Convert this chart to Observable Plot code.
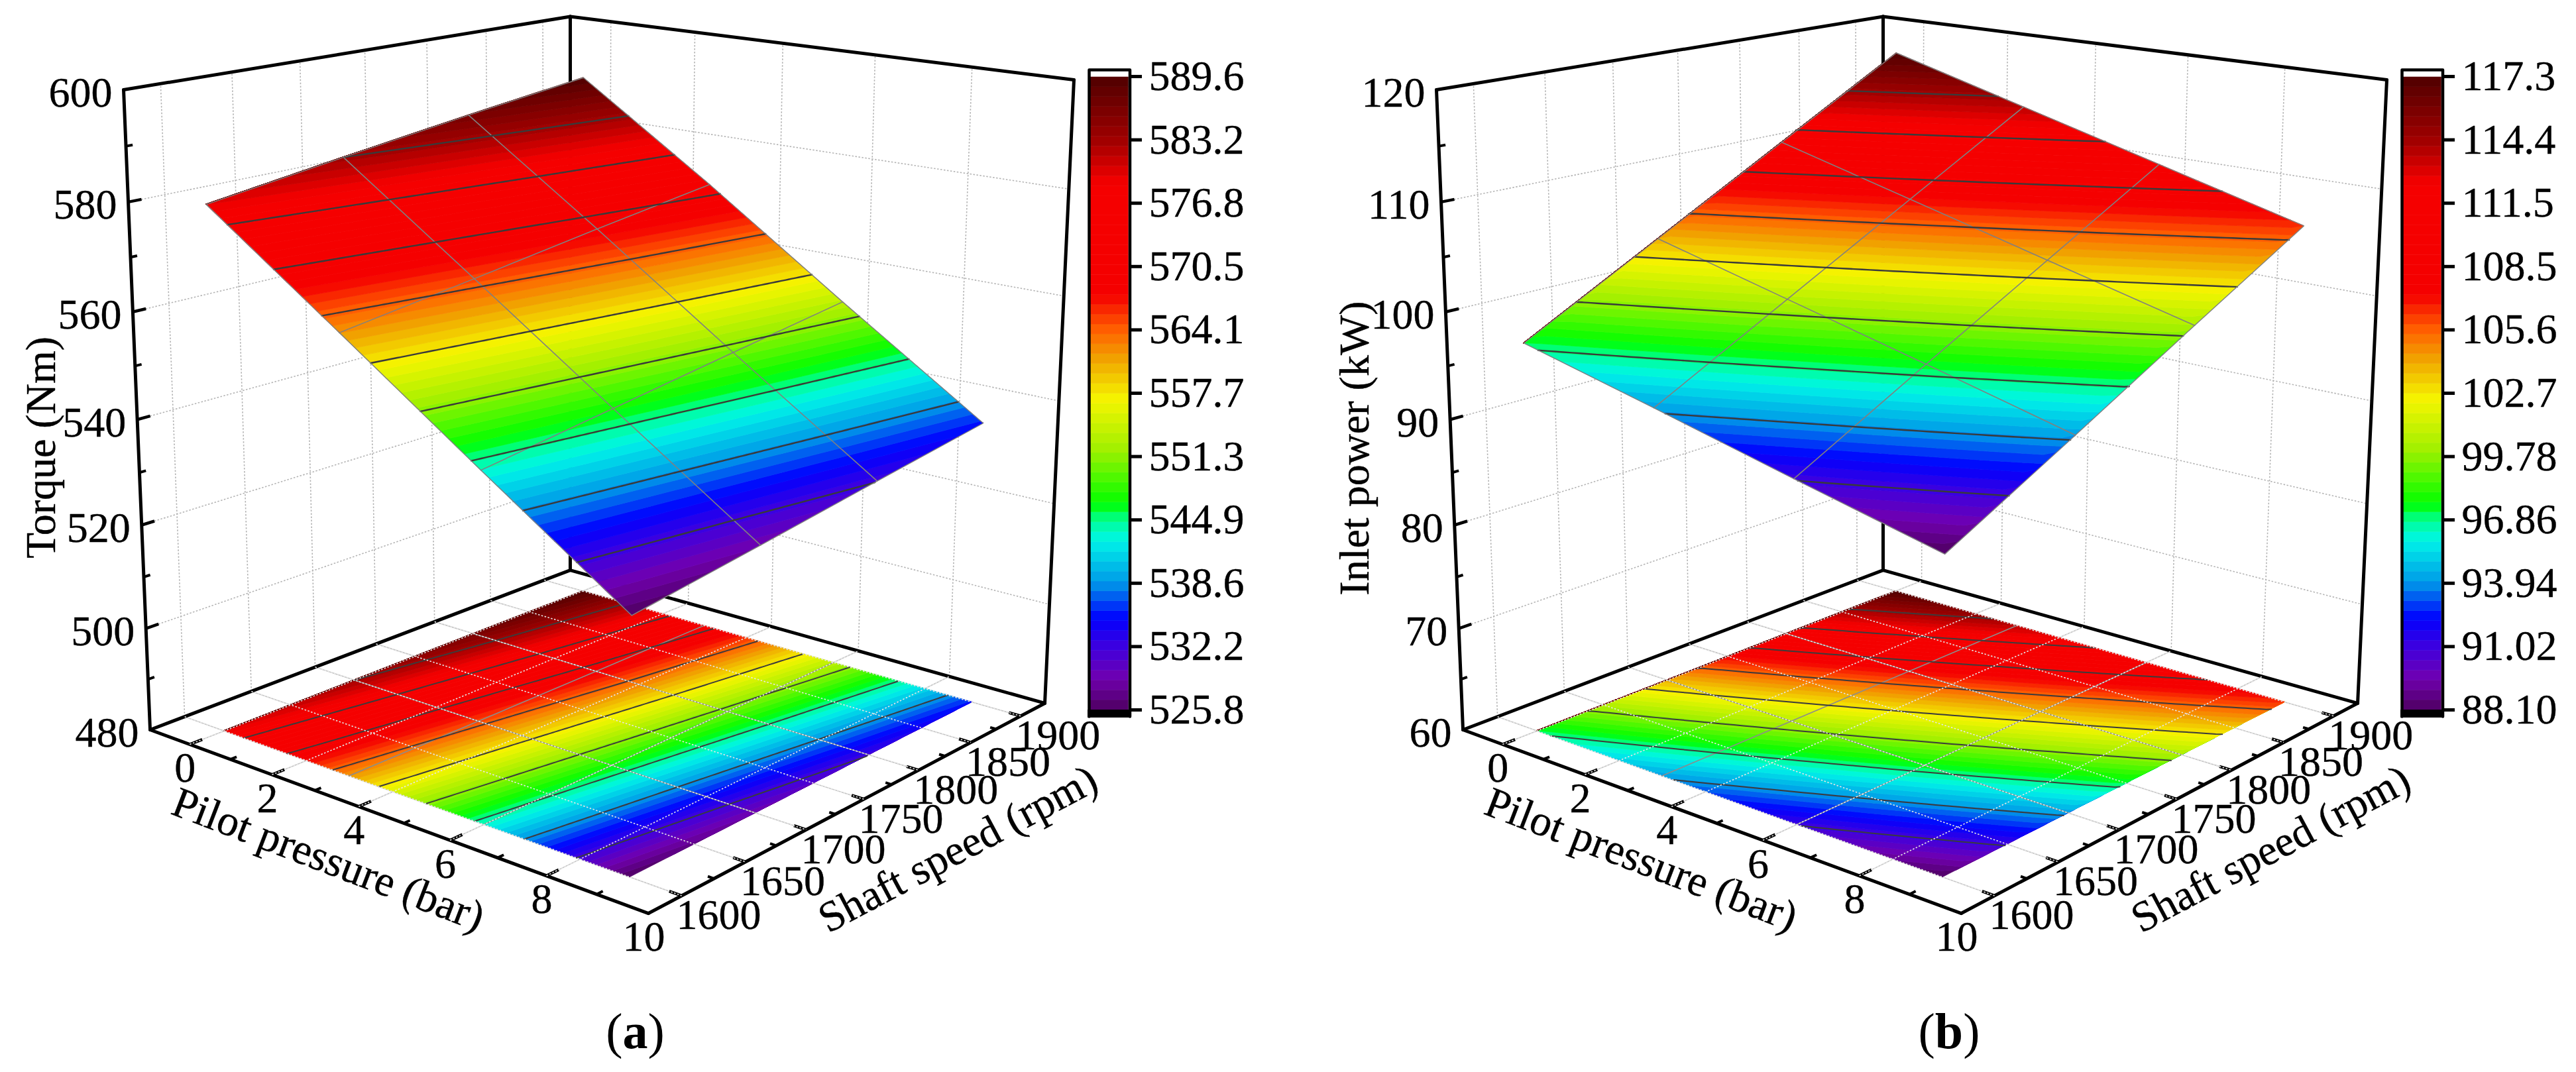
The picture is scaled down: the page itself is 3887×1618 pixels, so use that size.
<!DOCTYPE html>
<html>
<head>
<meta charset="utf-8">
<script src="https://cdn.jsdelivr.net/npm/d3@7"></script>
<script src="https://cdn.jsdelivr.net/npm/@observablehq/plot@0.6"></script>
<style>
html,body{margin:0;padding:0;background:#fff;overflow:hidden;width:3887px;height:1618px}
#root{position:relative;width:3887px;height:1618px}
.panel{position:absolute;top:0}
.panel svg{display:block;overflow:visible;background:#fff}
.cap{position:absolute;top:1518px;font:76px/76px "Liberation Serif",serif;color:#000;transform:translateX(-50%);white-space:nowrap}
</style>
</head>
<body>
<div id="root"></div>
<script>
// ---- values ----
const pilotValues = [0, 3, 6, 9];                 // bar
const speedValues = [1600, 1700, 1800, 1900];     // rpm
// one row per pilot value, one column per speed value
const torqueValues = [
  [579.7, 583.2, 586.5, 589.6],
  [561.8, 565.2, 568.7, 572.0],
  [543.7, 547.0, 550.3, 553.5],
  [525.8, 529.0, 532.3, 535.5]
];
const powerValues = [
  [97.2, 103.9, 110.6, 117.3],
  [94.2, 100.7, 107.2, 113.7],
  [91.1, 97.5, 103.8, 110.1],
  [88.1, 94.2, 100.4, 106.5]
];
const pilotTicks = [0, 2, 4, 6, 8, 10];
const pilotMinorTicks = [1, 3, 5, 7, 9];
const speedTicks = [1600, 1650, 1700, 1750, 1800, 1850, 1900];
const speedMinorTicks = [1625, 1675, 1725, 1775, 1825, 1875];
const torqueTicks = [480, 500, 520, 540, 560, 580, 600];
const torqueMinorTicks = [490, 510, 530, 550, 570, 590];
const powerTicks = [60, 70, 80, 90, 100, 110, 120];
const powerMinorTicks = [65, 75, 85, 95, 105, 115];
const torqueBarLabels = ["589.6","583.2","576.8","570.5","564.1","557.7","551.3","544.9","538.6","532.2","525.8"];
const powerBarLabels = ["117.3","114.4","111.5","108.5","105.6","102.7","99.78","96.86","93.94","91.02","88.10"];
const colorStops = [0, 0.05, 0.10, 0.144, 0.20, 0.268, 0.30, 0.325, 0.41, 0.49, 0.55, 0.60, 0.655, 0.832, 0.90, 1];
const colorRange = ["#4f0060","#7000b0","#3c00e0","#0000ff","#0098e8","#00f5e8","#00ff90","#00ff00","#a0f000","#f5f500","#f0a800","#ff6000","#f50000","#f50000","#a00000","#500000"];

// ---- layout (pixels, shared by both panels) ----
const W = 1906, H = 1518, FONT = '"Liberation Serif", serif';
const pilotRange = [-1, 10], speedRange = [1575, 1925];
const boxCorners = [ // [u, v, w, px, py]
  [0,0,0, 226,1101],[1,0,0, 978,1378],[1,1,0, 1576,1061],[0,1,0, 860,860],
  [0,0,1, 186,135],[0,1,1, 860,24.5],[1,1,1, 1620,120]
];
const bar = {x1:1645, x2:1702.5, frameL:1643, frameR:1704.5, frameT:105, frameB:1081, top:116, bottom:1071, tickTop:115, tickBottom:1071, labelX:1733};

// Fit of a perspective camera to the box corners (normal equations)
function fitCamera(pts){
  const A=[],b=[];
  for(const [u,v,w,X0,Y0] of pts){
    const X=X0/1000,Y=Y0/1000;
    A.push([u,v,w,1,0,0,0,0,-X*u,-X*v,-X*w]);b.push(X);
    A.push([0,0,0,0,u,v,w,1,-Y*u,-Y*v,-Y*w]);b.push(Y);
  }
  const n=11,M=[];
  for(let i=0;i<n;i++){M.push([]);for(let j=0;j<n;j++){let s=i===j?1e-10:0;for(let k=0;k<A.length;k++)s+=A[k][i]*A[k][j];M[i].push(s);}
    let r=0;for(let k=0;k<A.length;k++)r+=A[k][i]*b[k];M[i].push(r);}
  for(let i=0;i<n;i++){let p=i;for(let r=i+1;r<n;r++)if(Math.abs(M[r][i])>Math.abs(M[p][i]))p=r;[M[i],M[p]]=[M[p],M[i]];
    for(let r=0;r<n;r++){if(r===i)continue;const f=M[r][i]/M[i][i];for(let c=i;c<=n;c++)M[r][c]-=f*M[i][c];}}
  return M.map((row,i)=>row[n]/row[i]);
}
const cam = fitCamera(boxCorners);

function drawPanel(cfg){
  const {table, zTicks, zMinor, zRange, barLabels, zLabel} = cfg;
  const P=(pilot,speed,z)=>{
    const u=(pilot-pilotRange[0])/(pilotRange[1]-pilotRange[0]),
          v=(speed-speedRange[0])/(speedRange[1]-speedRange[0]),
          w=(z-zRange[0])/(zRange[1]-zRange[0]);
    const d=cam[8]*u+cam[9]*v+cam[10]*w+1;
    return {x:1000*(cam[0]*u+cam[1]*v+cam[2]*w+cam[3])/d, y:1000*(cam[4]*u+cam[5]*v+cam[6]*w+cam[7])/d};
  };
  const zMin=zRange[0], zMax=zRange[1];
  const vMin=+barLabels[barLabels.length-1], vMax=+barLabels[0];
  const pL=pilotRange[0],pH=pilotRange[1],sL=speedRange[0],sH=speedRange[1];

  // piecewise-linear reading of the table
  const seg=(vals,x)=>{let i=0;while(i<vals.length-2&&x>vals[i+1])i++;return [i,(x-vals[i])/(vals[i+1]-vals[i])];};
  const column=s=>{const [j,f]=seg(speedValues,s);return table.map(r=>r[j]*(1-f)+r[j+1]*f);};
  const surf=(p,s)=>{const c=column(s);const [i,f]=seg(pilotValues,p);return c[i]*(1-f)+c[i+1]*f;};
  // pilot where the surface equals c at speed s (surface falls with pilot), clamped to the data
  const iso=(s,c)=>{const col=column(s);
    if(c>=col[0])return pilotValues[0];
    for(let i=0;i<col.length-1;i++)if(c>=col[i+1])return pilotValues[i]+(col[i]-c)/(col[i]-col[i+1])*(pilotValues[i+1]-pilotValues[i]);
    return pilotValues[pilotValues.length-1];};
  const isInside=(s,c)=>{const col=column(s);return c<col[0]&&c>col[col.length-1];};

  // colour bands between neighbouring iso-lines
  const levels=64, dv=(vMax-vMin)/levels;
  const sampleS=d3.range(speedValues[0],speedValues[3]+0.1,5);
  const bands=(onFloor)=>{const rows=[];
    for(let k=0;k<levels;k++){const lo=vMin+k*dv,hi=lo+dv,mid=lo+dv/2;
      for(const s of sampleS){
        const p1=iso(s,hi),p2=iso(s,lo);
        const a=P(p1,s,onFloor?zMin:surf(p1,s)),b=P(p2,s,onFloor?zMin:surf(p2,s));
        rows.push({band:k,mid,x1:a.x,y1:a.y,x2:b.x,y2:b.y});
      }}
    return rows;};
  const domain=colorStops.map(t=>vMin+t*(vMax-vMin));
  const bandMark=f=>Plot.area(bands(f),{x1:"x1",y1:"y1",x2:"x2",y2:"y2",z:"band",fill:"mid",stroke:"mid",strokeWidth:0.8});

  // contour lines at the colour-bar labels
  const contourLevels=barLabels.slice(1,-1).map(Number);
  const fineS=d3.range(speedValues[0],speedValues[3]+0.1,2);
  const contours=(onFloor)=>{const rows=[];
    contourLevels.forEach((c,i)=>{
      fineS.forEach((s,n)=>{
        const keep=isInside(s,c)||(n>0&&isInside(fineS[n-1],c))||(n<fineS.length-1&&isInside(fineS[n+1],c));
        if(!keep)return;
        const p=iso(s,c);rows.push({g:i,...P(p,s,onFloor?zMin:c)});
      });
    });
    return rows;};

  // mesh lines through the table nodes
  const mesh=(onFloor)=>{const rows=[];
    pilotValues.slice(1,-1).forEach(p=>{const i=pilotValues.indexOf(p);speedValues.forEach((s,j)=>rows.push({g:"p"+p,...P(p,s,onFloor?zMin:table[i][j])}));});
    speedValues.slice(1,-1).forEach(s=>{const j=speedValues.indexOf(s);pilotValues.forEach((p,i)=>rows.push({g:"s"+s,...P(p,s,onFloor?zMin:table[i][j])}));});
    return rows;};
  const outline=(onFloor)=>{const rows=[];const n=3;
    const ring=[...pilotValues.map((p,i)=>[i,0]),...speedValues.slice(1).map((s,j)=>[n,j+1]),...pilotValues.slice(0,-1).reverse().map((p,i)=>[n-1-i,n]),...speedValues.slice(0,-1).reverse().map((s,j)=>[0,n-1-j])];
    ring.forEach(([i,j])=>rows.push(P(pilotValues[i],speedValues[j],onFloor?zMin:table[i][j])));
    return rows;};

  const seg3=(a,b)=>{const A=P(...a),B=P(...b);return {x1:A.x,y1:A.y,x2:B.x,y2:B.y};};

  // walls and floor grid
  const wallGrid=[
    ...zTicks.slice(1,-1).map(z=>seg3([pL,sL,z],[pL,sH,z])),
    ...zTicks.slice(1,-1).map(z=>seg3([pL,sH,z],[pH,sH,z])),
    ...speedTicks.map(s=>seg3([pL,s,zMin],[pL,s,zMax])),
    ...pilotTicks.slice(0,-1).map(p=>seg3([p,sH,zMin],[p,sH,zMax]))
  ];
  const floorGrid=[
    ...pilotTicks.slice(0,-1).map(p=>seg3([p,sL,zMin],[p,sH,zMin])),
    ...speedTicks.map(s=>seg3([pL,s,zMin],[pH,s,zMin]))
  ];
  const box=[
    seg3([pL,sL,zMin],[pL,sL,zMax]),seg3([pL,sH,zMin],[pL,sH,zMax]),seg3([pH,sH,zMin],[pH,sH,zMax]),
    seg3([pL,sL,zMax],[pL,sH,zMax]),seg3([pL,sH,zMax],[pH,sH,zMax]),
    seg3([pL,sL,zMin],[pH,sL,zMin]),seg3([pH,sL,zMin],[pH,sH,zMin]),
    seg3([pL,sL,zMin],[pL,sH,zMin]),seg3([pL,sH,zMin],[pH,sH,zMin])
  ];

  // ticks, pointing into the box
  const dS=9, dP=0.24;
  const ticks=[
    ...zTicks.slice(1,-1).map(z=>seg3([pL,sL,z],[pL,sL+dS,z])),
    ...pilotTicks.slice(0,-1).map(p=>seg3([p,sL,zMin],[p,sL+dS,zMin])),
    ...speedTicks.map(s=>seg3([pH,s,zMin],[pH-dP,s,zMin]))
  ];
  const minor=[
    ...zMinor.map(z=>seg3([pL,sL,z],[pL,sL+dS/2,z])),
    ...pilotMinorTicks.map(p=>seg3([p,sL,zMin],[p,sL+dS/2,zMin])),
    ...speedMinorTicks.map(s=>seg3([pH,s,zMin],[pH-dP/2,s,zMin]))
  ];

  // tick labels
  const zLabels=zTicks.map(z=>{const a=P(pL,sL,z);return {label:String(z),x:a.x-17,y:a.y+5};});
  const pLabels=pilotTicks.map(p=>{const a=P(p,sL,zMin);return {label:String(p),x:a.x-7,y:a.y+36};});
  const sLabels=speedTicks.map(s=>{const a=P(pH,s,zMin);return {label:String(s),x:a.x+56,y:a.y+30};});

  // colour bar
  const barY=d3.scaleLinear().domain([vMin,vMax]).range([bar.bottom,bar.top]);
  const barRows=d3.range(levels).map(k=>{const lo=vMin+k*dv;return {mid:lo+dv/2,y1:barY(lo),y2:barY(lo+dv)};});
  const barTicks=barLabels.map((label,i)=>({label,y:bar.tickTop+(bar.tickBottom-bar.tickTop)*i/(barLabels.length-1)}));

  const txt={fontFamily:FONT,fill:"black",stroke:"black",strokeWidth:0.4};
  const fig=Plot.plot({
    width:W,height:H,margin:0,
    style:{background:"#fff",overflow:"visible"},
    x:{domain:[0,W],range:[0,W],axis:null},
    y:{domain:[0,H],range:[0,H],axis:null},
    color:{type:"linear",domain,range:colorRange,interpolate:"rgb"},
    marks:[
      Plot.link(wallGrid,{x1:"x1",y1:"y1",x2:"x2",y2:"y2",stroke:"#b4b4b4",strokeWidth:1.6,strokeDasharray:"2.5,2.5"}),
      Plot.link(floorGrid,{x1:"x1",y1:"y1",x2:"x2",y2:"y2",stroke:"#c4c4c4",strokeWidth:1.6}),
      Plot.link(box,{x1:"x1",y1:"y1",x2:"x2",y2:"y2",stroke:"black",strokeWidth:5,strokeLinecap:"round"}),
      Plot.link(ticks,{x1:"x1",y1:"y1",x2:"x2",y2:"y2",stroke:"black",strokeWidth:4.5}),
      Plot.link(minor,{x1:"x1",y1:"y1",x2:"x2",y2:"y2",stroke:"black",strokeWidth:4}),
      // floor projection
      bandMark(true),
      Plot.line(mesh(true),{x:"x",y:"y",z:"g",stroke:"#8c8c8c",strokeWidth:1.6}),
      Plot.line(contours(true),{x:"x",y:"y",z:"g",stroke:"#3c3c3c",strokeWidth:2}),
      Plot.link(floorGrid,{x1:"x1",y1:"y1",x2:"x2",y2:"y2",stroke:"#e6e6e6",strokeWidth:1.6,strokeDasharray:"2.5,2.5"}),
      // surface
      bandMark(false),
      Plot.line(mesh(false),{x:"x",y:"y",z:"g",stroke:"#808080",strokeWidth:1.6}),
      Plot.line(contours(false),{x:"x",y:"y",z:"g",stroke:"#3a3a3a",strokeWidth:2.4}),
      Plot.line(outline(false),{x:"x",y:"y",stroke:"#808080",strokeWidth:1.4}),
      // colour bar
      Plot.rect(barRows,{x1:()=>bar.x1,x2:()=>bar.x2,y1:"y1",y2:"y2",fill:"mid",stroke:"mid",strokeWidth:0.5}),
      Plot.rect([{}],{x1:()=>bar.frameL-2,x2:()=>bar.frameR+2,y1:()=>bar.bottom,y2:()=>bar.frameB+2,fill:"black"}),
      Plot.line([[bar.frameL,bar.frameB],[bar.frameL,bar.frameT],[bar.frameR,bar.frameT],[bar.frameR,bar.frameB]],{stroke:"black",strokeWidth:4.5,strokeLinejoin:"round"}),
      Plot.link(barTicks,{x1:()=>bar.frameR,x2:()=>bar.frameR+18,y1:"y",y2:"y",stroke:"black",strokeWidth:5}),
      Plot.text(barTicks,{x:()=>bar.labelX,y:"y",text:"label",textAnchor:"start",lineAnchor:"middle",fontSize:64,...txt}),
      // axis labels
      Plot.text(zLabels,{x:"x",y:"y",text:"label",textAnchor:"end",lineAnchor:"middle",fontSize:64,...txt}),
      Plot.text(pLabels,{x:"x",y:"y",text:"label",textAnchor:"middle",lineAnchor:"middle",fontSize:64,...txt}),
      Plot.text(sLabels,{x:"x",y:"y",text:"label",textAnchor:"middle",lineAnchor:"middle",fontSize:64,...txt}),
      Plot.text([zLabel.text],{x:()=>zLabel.x,y:()=>zLabel.y,text:d=>d,rotate:-90,textAnchor:"middle",lineAnchor:"middle",fontSize:64,...txt}),
      Plot.text(["Pilot pressure (bar)"],{x:()=>495,y:()=>1297,text:d=>d,rotate:21,textAnchor:"middle",lineAnchor:"middle",fontSize:65,...txt}),
      Plot.text(["Shaft speed (rpm)"],{x:()=>1445,y:()=>1281,text:d=>d,rotate:-28,textAnchor:"middle",lineAnchor:"middle",fontSize:65,...txt})
    ]
  });
  return fig;
}

const root=document.getElementById("root");
function addPanel(left,cfg,capX,capLetter){
  const div=document.createElement("div");div.className="panel";div.style.left=left+"px";
  div.appendChild(drawPanel(cfg));root.appendChild(div);
  const cap=document.createElement("div");cap.className="cap";cap.style.left=capX+"px";
  cap.innerHTML="(<b>"+capLetter+"</b>)";root.appendChild(cap);
}
addPanel(0,{table:torqueValues,zTicks:torqueTicks,zMinor:torqueMinorTicks,zRange:[480,600],barLabels:torqueBarLabels,
  zLabel:{text:"Torque (Nm)",x:62,y:675}},958.5,"a");
addPanel(1981,{table:powerValues,zTicks:powerTicks,zMinor:powerMinorTicks,zRange:[60,120],barLabels:powerBarLabels,
  zLabel:{text:"Inlet power (kW)",x:63,y:676}},2941,"b");
</script>
</body>
</html>
